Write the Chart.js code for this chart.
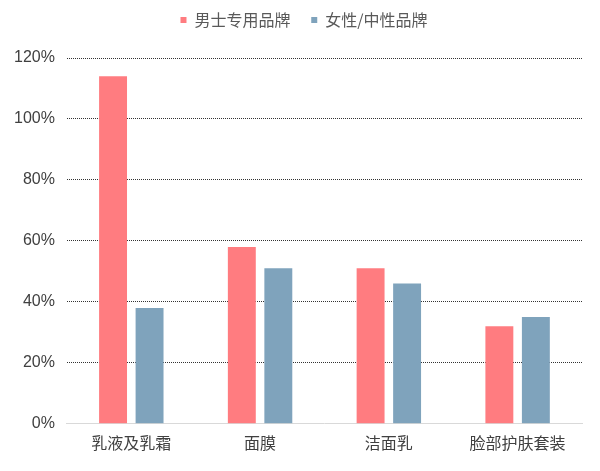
<!DOCTYPE html>
<html>
<head>
<meta charset="utf-8">
<script src="https://cdn.jsdelivr.net/npm/chart.js@4.4.1/dist/chart.umd.min.js"></script>
<style>
  html, body { margin: 0; padding: 0; background: #fff; }
  #wrap { width: 600px; height: 471px; }
</style>
</head>
<body>
<div id="wrap"><canvas id="chart"></canvas></div>
<script>
// categorias y valores (%)
const categorias = ["乳液及乳霜", "面膜", "洁面乳", "脸部护肤套装"];
const serieNombres = ["男士专用品牌", "女性/中性品牌"];
const hombres = [114, 58, 51, 32];
const mujeres = [38, 51, 46, 35];
const ticksY = [0, 20, 40, 60, 80, 100, 120];

// espacio extra debajo de la leyenda y un pequeño corrimiento a la derecha
const margenLeyenda = {
    id: "margenLeyenda",
    beforeInit(chart) {
        const fit = chart.legend.fit;
        chart.legend.fit = function () {
            fit.bind(chart.legend)();
            this.height += 20;
        };
    },
    afterLayout(chart) {
        chart.legend.left = 26;
    }
};

const ctx = document.getElementById("chart");
new Chart(ctx, {
    type: "bar",
    data: {
        labels: categorias,
        datasets: [
            { label: serieNombres[0], data: hombres, backgroundColor: "#FF7C80" },
            { label: serieNombres[1], data: mujeres, backgroundColor: "#7FA3BC" }
        ]
    },
    options: {
        responsive: true,
        maintainAspectRatio: false,
        animation: false,
        datasets: { bar: { categoryPercentage: 0.567, barPercentage: 0.765 } },
        layout: { padding: { top: 2, right: 18, left: 2, bottom: 16 } },
        plugins: {
            legend: {
                position: "top",
                labels: {
                    boxWidth: 6,
                    boxHeight: 6,
                    padding: 10,
                    color: "#595959",
                    font: { family: "'Noto Sans CJK SC'", size: 16 },
                    generateLabels: (chart) => {
                        const items = Chart.defaults.plugins.legend.labels.generateLabels(chart);
                        items[0].text = items[0].text + "   ";
                        return items;
                    }
                }
            },
            tooltip: { enabled: false }
        },
        scales: {
            x: {
                grid: { display: false },
                border: { color: "#D9D9D9", width: 1 },
                ticks: {
                    color: "#404040",
                    padding: 2,
                    font: { family: "'Noto Sans CJK SC'", size: 16 }
                }
            },
            y: {
                min: 0,
                max: 120,
                afterBuildTicks: (axis) => { axis.ticks = ticksY.map(v => ({ value: v })); },
                grid: {
                    color: (c) => c.tick && c.tick.value === 0 ? "rgba(0,0,0,0)" : "rgba(0,0,0,0.8)",
                    lineWidth: 1,
                    drawTicks: false
                },
                border: { display: false, dash: [1, 1] },
                ticks: {
                    color: "#404040",
                    padding: 12,
                    font: { family: "'Liberation Sans', Arial", size: 16 },
                    callback: (v) => v + "%"
                }
            }
        }
    },
    plugins: [margenLeyenda]
});
</script>
</body>
</html>
